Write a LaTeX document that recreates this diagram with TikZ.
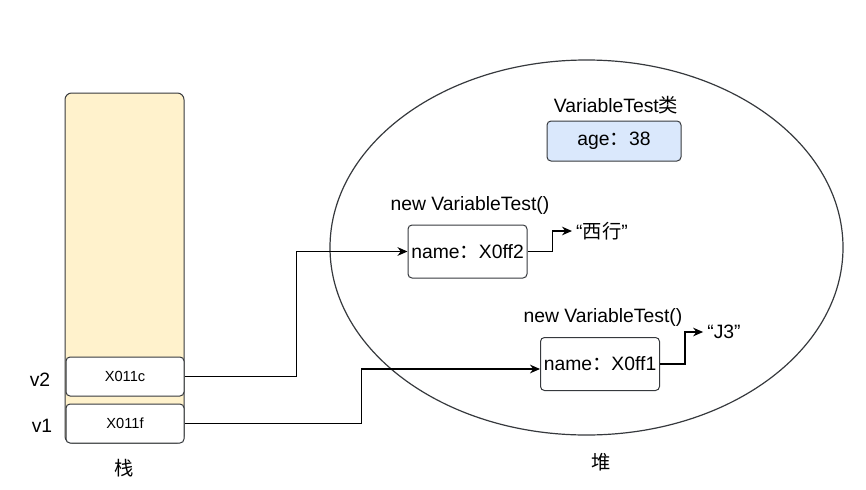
\documentclass[tikz,border=0pt]{standalone}
\usepackage{fontspec}
\setmainfont{Liberation Sans}
\newfontfamily\cjk{Noto Sans CJK SC}
\usetikzlibrary{shapes.geometric, arrows.meta, positioning}
\definecolor{stackfill}{RGB}{255, 242, 204}
\definecolor{classfill}{RGB}{218, 232, 252}
\definecolor{edgegray}{RGB}{54, 57, 61}

\tikzset{
    txt/.style={font=\fontsize{14.5pt}{17pt}\selectfont},
    slot/.style={draw=edgegray, fill=white, line width=0.75pt, rounded corners=3pt,
                 minimum width=88.5pt, minimum height=29.25pt, inner sep=0pt,
                 font=\fontsize{11pt}{13pt}\selectfont},
    objbox/.style={txt, draw=edgegray, line width=0.75pt, rounded corners=3pt,
                   minimum width=89.25pt, minimum height=39.75pt, inner sep=0pt},
    conn/.style={-{Stealth[length=7.5pt, width=6.5pt]}, line width=0.9pt}
}

\begin{document}
\begin{tikzpicture}[x=0.75pt, y=-0.75pt]
    \useasboundingbox (0,0) rectangle (866,489);

    % Stack
    \node[draw=edgegray, fill=stackfill, line width=0.75pt, rounded corners=5pt,
          minimum width=89.25pt, minimum height=262.5pt, inner sep=0pt] (stack) at (124.5,268) {};
    \node[slot] (v2box) at (125,376.5) {X011c};
    \node[slot] (v1box) at (125,423.5) {X011f};
    \node[txt] (v2) at (40,380) {v2};
    \node[txt] (v1) at (42,426) {v1};
    \node[txt] (stacklbl) at (124,468) {\cjk 栈};

    % Heap
    \node[ellipse, draw=edgegray, line width=0.9pt, minimum width=384.75pt,
          minimum height=281.25pt, inner sep=0pt] (heap) at (586.5,247.5) {};
    \node[txt] (heaplbl) at (601,462) {\cjk 堆};

    \node[txt] (cls) at (616,105) {VariableTest{\cjk 类}};
    \node[objbox, fill=classfill, minimum width=100.5pt, minimum height=30pt] (age) at (614,141) {age{\cjk ：}38};

    \node[objbox] (obj1) at (467.5,251.5) {name{\cjk ：}X0ff2};
    \node[txt] (new1) at (470,205) {new VariableTest()};
    \node[txt, inner sep=3pt] (str1) at (602,231) {“{\cjk 西行}”};

    \node[objbox] (obj2) at (600,364) {name{\cjk ：}X0ff1};
    \node[txt] (new2) at (603,317) {new VariableTest()};
    \node[txt, inner sep=3pt] (str2) at (724,332) {“J3”};

    % Arrows
    \draw[conn] (v2box.east) -- ++(112,0) |- (obj1.west);
    \draw[conn] (v1box.east) -- ++(177,0) |- ([yshift=-3.75pt]obj2.west);
    \draw[conn] (obj1.east) -- ++(25,0) |- (str1.west);
    \draw[conn] (obj2.east) -- ++(25,0) |- (str2.west);
\end{tikzpicture}
\end{document}
